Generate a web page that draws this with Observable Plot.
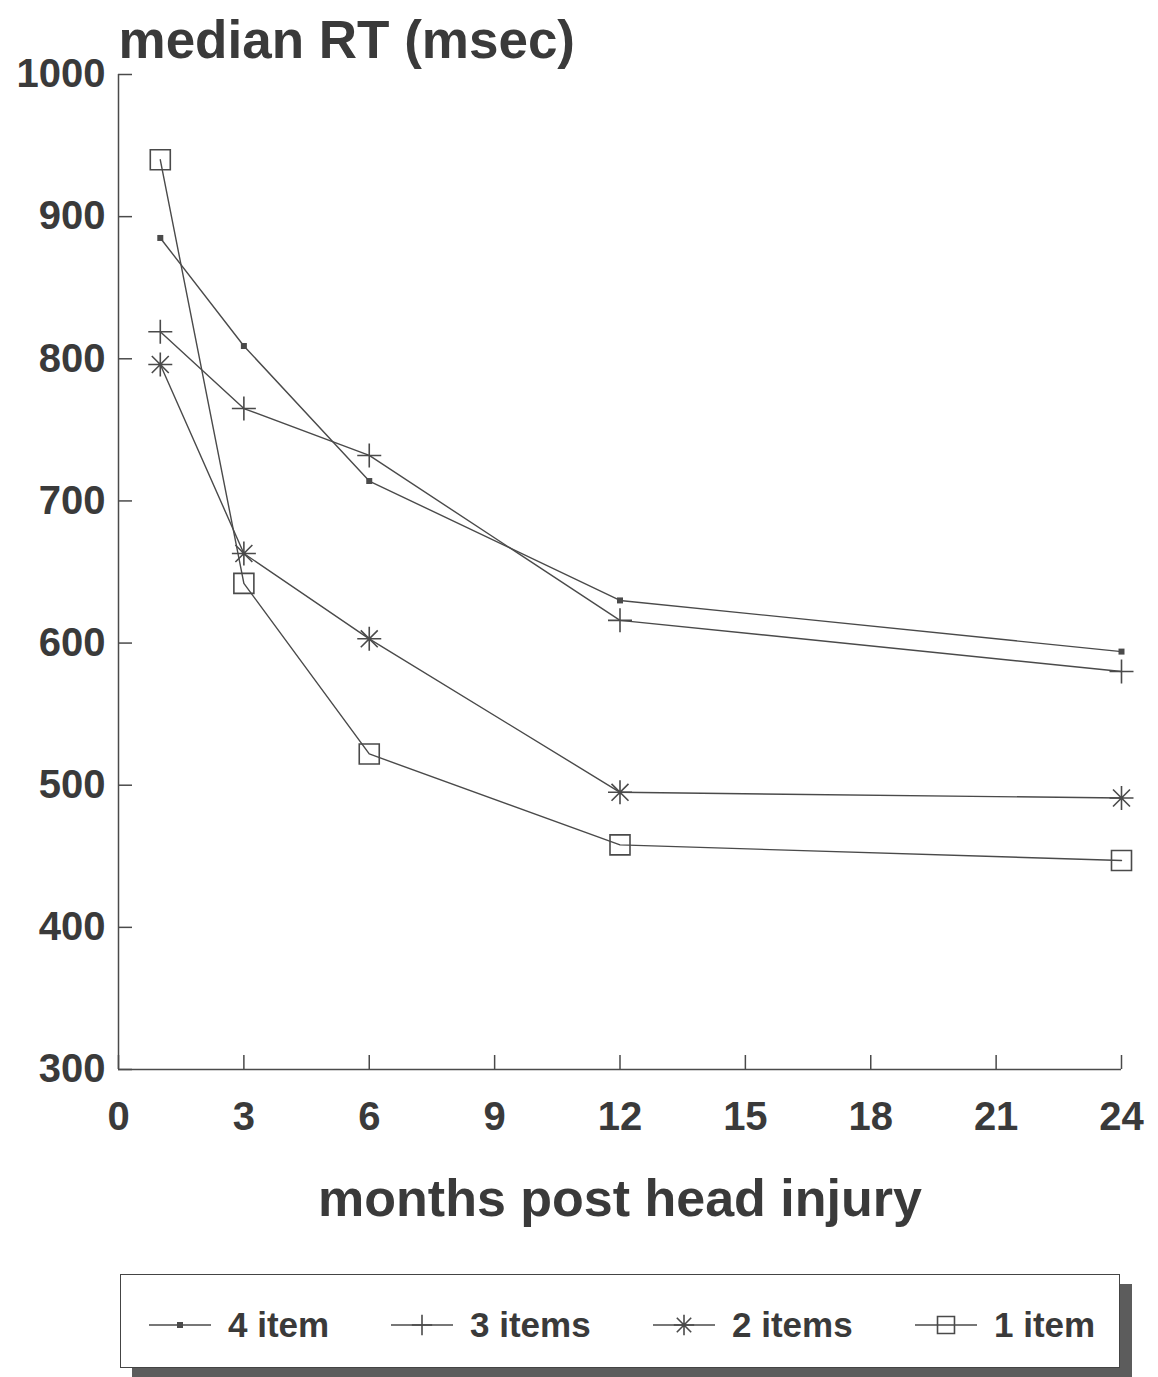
<!DOCTYPE html>
<html><head><meta charset="utf-8">
<script src="https://cdn.jsdelivr.net/npm/d3@7"></script>
<script src="https://cdn.jsdelivr.net/npm/@observablehq/plot@0.6"></script>
<style>
body{margin:0;background:#fff;font-family:"Liberation Sans",Arial,sans-serif;}
#wrap{position:relative;width:1158px;height:1377px;overflow:hidden;}
#legend{position:absolute;left:120px;top:1274px;width:1000px;height:94px;box-sizing:border-box;border:1.5px solid #444;background:#fff;box-shadow:12px 10px 0 #5c5c5c;}
.item{position:absolute;top:4px;height:100%;display:flex;align-items:center;font-weight:bold;font-size:35px;color:#3a3a3a;}
.item svg{margin-right:17px;}
</style></head><body><div id="wrap"><div id="chart"></div><div id="legend"></div></div>
<script>
// ---- data ----
const months = [1, 3, 6, 12, 24];
const seriesNames = ["4 item", "3 items", "2 items", "1 item"];
const rt4 = [885, 809, 714, 630, 594];
const rt3 = [819, 765, 732, 616, 580];
const rt2 = [796, 663, 603, 495, 491];
const rt1 = [940, 642, 522, 458, 447];
const xTicks = [0, 3, 6, 9, 12, 15, 18, 21, 24];
const yTicks = [300, 400, 500, 600, 700, 800, 900, 1000];
const titleText = "median RT (msec)";
const xLabelText = "months post head injury";

const valuesBySeries = [rt4, rt3, rt2, rt1];
const data = seriesNames.flatMap((s, i) => months.map((m, j) => ({series: s, month: m, rt: valuesBySeries[i][j]})));

const ink = "#4a4a4a";
const txt = "#3a3a3a";

function sym(fn) { return {draw(ctx, size) { const r = Math.sqrt(size / Math.PI); fn(ctx, r); }}; }
const symbols = {
  "4 item": sym((c, r) => { c.rect(-r, -r, 2 * r, 2 * r); }),
  "3 items": sym((c, r) => { c.moveTo(-r, 0); c.lineTo(r, 0); c.moveTo(0, -r); c.lineTo(0, r); }),
  "2 items": sym((c, r) => { for (let k = 0; k < 4; k++) { const a = k * Math.PI / 4; c.moveTo(-r * Math.cos(a), -r * Math.sin(a)); c.lineTo(r * Math.cos(a), r * Math.sin(a)); } }),
  "1 item": sym((c, r) => { c.rect(-r, -r, 2 * r, 2 * r); })
};
const markerR = {"4 item": 3, "3 items": 12, "2 items": 12, "1 item": 10};
const filled = s => s === "4 item";

const chart = Plot.plot({
  width: 1158,
  height: 1250,
  marginLeft: 118,
  marginRight: 37,
  marginTop: 74,
  marginBottom: 181,
  x: {domain: [0, 24]},
  y: {domain: [300, 1000]},
  style: {fontSize: "40px", fontFamily: "Liberation Sans, Arial, sans-serif", fontWeight: "bold", color: txt, background: "white", overflow: "visible"},
  marks: [
    Plot.ruleX([0], {stroke: ink, strokeWidth: 1.5}),
    Plot.ruleY([300], {stroke: ink, strokeWidth: 1.5}),
    Plot.axisY({ticks: yTicks, tickSize: -14, tickPadding: 27, tickFormat: d => String(d), label: null, stroke: ink, strokeWidth: 1.5}),
    Plot.axisX({ticks: xTicks, tickSize: -14, tickPadding: 46, tickFormat: d => String(d), label: null, stroke: ink, strokeWidth: 1.5}),
    Plot.line(data, {x: "month", y: "rt", z: "series", stroke: ink, strokeWidth: 1.4}),
    ...seriesNames.map(s => Plot.dot(data.filter(d => d.series === s), {
      x: "month", y: "rt", symbol: symbols[s], r: markerR[s],
      stroke: filled(s) ? "none" : ink, fill: filled(s) ? ink : "none", strokeWidth: 1.6
    })),
    Plot.text([titleText], {text: d => d, frameAnchor: "top-left", textAnchor: "start", lineAnchor: "bottom", dy: -17, fontSize: 53, fontWeight: "bold", fill: txt}),
    Plot.text([xLabelText], {text: d => d, frameAnchor: "bottom", lineAnchor: "bottom", dy: 146, fontSize: 52, fontWeight: "bold", fill: txt})
  ]
});
document.getElementById("chart").appendChild(chart);

// ---- legend ----
const legend = document.getElementById("legend");
const lefts = [28, 270, 532, 794];
seriesNames.forEach((s, i) => {
  const item = document.createElement("div");
  item.className = "item";
  item.style.left = lefts[i] + "px";
  const svg = d3.create("svg").attr("width", 62).attr("height", 30);
  svg.append("line").attr("x1", 0).attr("x2", 62).attr("y1", 15).attr("y2", 15).attr("stroke", ink).attr("stroke-width", 1.4);
  const p = d3.path();
  symbols[s].draw(p, Math.PI * markerR[s] * markerR[s] * (filled(s) ? 1 : 0.72));
  svg.append("path").attr("transform", "translate(31,15)").attr("d", p.toString())
    .attr("fill", filled(s) ? ink : "none").attr("stroke", filled(s) ? "none" : ink).attr("stroke-width", 1.6);
  item.appendChild(svg.node());
  const span = document.createElement("span");
  span.textContent = s;
  item.appendChild(span);
  legend.appendChild(item);
});
</script></body></html>
